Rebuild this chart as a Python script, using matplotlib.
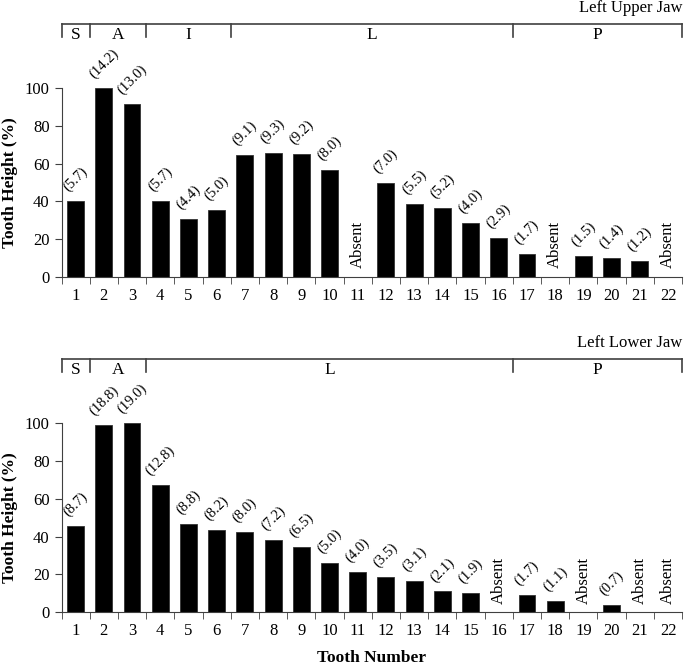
import numpy as np
import matplotlib
matplotlib.use("Agg")
import matplotlib.pyplot as plt

plt.rcParams['font.family'] = ['Liberation Serif', 'DejaVu Serif']

teeth = list(range(1, 23))

# upper jaw: relative height (%) and absolute height label (None = absent)
upper_height = [40, 100, 91.6, 40, 30.8, 35.2, 64.4, 65.8, 65.0, 56.4, None,
                49.5, 38.8, 36.7, 28.3, 20.5, 12.0, None, 10.8, 9.9, 8.5, None]
upper_label = ["5.7", "14.2", "13.0", "5.7", "4.4", "5.0", "9.1", "9.3", "9.2", "8.0", None,
               "7.0", "5.5", "5.2", "4.0", "2.9", "1.7", None, "1.5", "1.4", "1.2", None]
upper_groups = [("S", 1, 1), ("A", 2, 3), ("I", 4, 6), ("L", 7, 16), ("P", 17, 22)]

# lower jaw
lower_height = [45.7, 99.1, 100, 67.5, 46.6, 43.3, 42.4, 38.0, 34.4, 26.1, 21.4,
                18.4, 16.4, 10.9, 9.9, None, 8.8, 6.0, None, 3.9, None, None]
lower_label = ["8.7", "18.8", "19.0", "12.8", "8.8", "8.2", "8.0", "7.2", "6.5", "5.0", "4.0",
               "3.5", "3.1", "2.1", "1.9", None, "1.7", "1.1", None, "0.7", None, None]
lower_groups = [("S", 1, 1), ("A", 2, 3), ("L", 4, 16), ("P", 17, 22)]

line_col = '#404040'


def draw_jaw(ax, heights, labels, groups, title):
    xs = [t for t, h in zip(teeth, heights) if h is not None]
    hs = [h for h in heights if h is not None]
    ax.bar(xs, hs, width=0.6, color='black', edgecolor='#333333', linewidth=0.6)

    for t, h, lab in zip(teeth, heights, labels):
        if h is None:
            ax.annotate("Absent", (t, 0), xytext=(0, 6), textcoords='offset points',
                        rotation=90, ha='center', va='bottom', fontsize=12,
                        annotation_clip=False)
        else:
            ax.annotate("(" + lab + ")", (t, h), xytext=(0, 5), textcoords='offset points',
                        rotation=45, ha='center', va='bottom', fontsize=10.5,
                        annotation_clip=False)

    ax.set_xlim(0.5, 22.5)
    ax.set_ylim(0, 100)
    ax.set_yticks(np.arange(0, 101, 20))
    ax.set_xticks(teeth)
    ax.set_xticks(np.arange(0.5, 23, 1), minor=True)
    ax.tick_params(axis='x', which='major', length=0, labelsize=12, pad=8)
    ax.tick_params(axis='x', which='minor', length=5, color=line_col, direction='out')
    ax.tick_params(axis='y', length=5, color=line_col, labelsize=12)
    for s in ['top', 'right']:
        ax.spines[s].set_visible(False)
    for s in ['left', 'bottom']:
        ax.spines[s].set_color(line_col)
    ax.set_ylabel("Tooth Height (%)", fontsize=12.5, fontweight='bold', labelpad=5)

    # group bracket above the bars
    ax.plot([0.5, 22.5], [134.3, 134.3], color=line_col, lw=1.2, clip_on=False)
    edges = [g[1] - 0.5 for g in groups] + [22.5]
    for e in edges:
        ax.plot([e, e], [134.3, 127], color=line_col, lw=1.2, clip_on=False)
    for name, a, b in groups:
        ax.text((a + b) / 2, 126, name, ha='center', va='baseline', fontsize=12.5)
    ax.text(22.5, 140.5, title, ha='right', va='baseline', fontsize=12)


fig = plt.figure(figsize=(6.85, 6.68), dpi=100)
ax1 = fig.add_axes([0.0898, 0.5858, 0.906, 0.282])
ax2 = fig.add_axes([0.0898, 0.0838, 0.906, 0.2825])

draw_jaw(ax1, upper_height, upper_label, upper_groups, "Left Upper Jaw")
draw_jaw(ax2, lower_height, lower_label, lower_groups, "Left Lower Jaw")
ax2.set_xlabel("Tooth Number", fontsize=12.5, fontweight='bold', labelpad=8)

fig.savefig("out.png", dpi=100)
